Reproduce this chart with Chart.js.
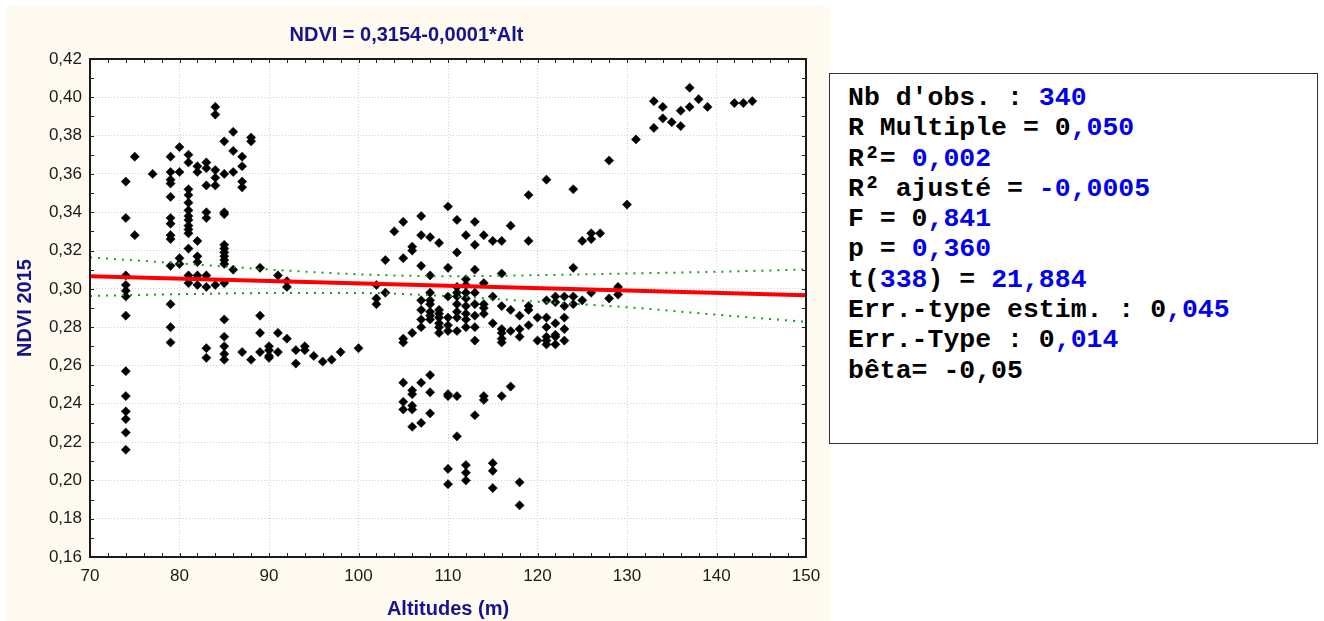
<!DOCTYPE html>
<html lang="fr">
<head>
    <meta charset="UTF-8">
    <title>NDVI 2015 / Altitudes</title>
    <style>
        body {
            margin: 0;
            width: 1324px;
            height: 621px;
            background: #fff;
            position: relative;
            overflow: hidden;
        }
        .chart-panel {
            position: absolute;
            left: 7px;
            top: 7px;
            width: 823px;
            height: 614px;
            background: #fefaf0;
        }
        .stats {
            position: absolute;
            left: 829px;
            top: 73px;
            width: 489px;
            height: 371px;
            box-sizing: border-box;
            border: 1.5px solid #333;
            background: #fff;
            padding: 9px 0 0 18px;
            font-family: "Liberation Mono", "Courier New", monospace;
            font-weight: bold;
            font-size: 26.5px;
            line-height: 30.3px;
            white-space: pre;
            color: #000;
        }
        .v { color: #0000ee; }
    </style>
    <script src="https://cdn.jsdelivr.net/npm/chart.js"></script>
</head>
<body>
    <div class="chart-panel">
        <canvas id="ndviChart"></canvas>
    </div>
    <div class="stats">Nb d'obs. : <span class="v">340</span>
R Multiple = 0<span class="v">,050</span>
R²= <span class="v">0,002</span>
R² ajusté = <span class="v">-0,0005</span>
F = 0<span class="v">,841</span>
p = <span class="v">0,360</span>
t(<span class="v">338</span>) = <span class="v">21,884</span>
Err.-type estim. : 0<span class="v">,045</span>
Err.-Type : 0<span class="v">,014</span>
bêta= -0,05</div>

    <script>
        // altitudes (m) that have observations, and the NDVI values read at each one
        const altitudes = [74, 75, 77, 79, 80, 81, 82, 83, 84, 85,
            86, 87, 88, 89, 90, 91, 92, 93, 94, 95,
            96, 97, 98, 100, 102, 103, 104, 105, 106, 107,
            108, 109, 110, 111, 112, 113, 114, 115, 116, 117,
            118, 119, 120, 121, 122, 123, 124, 125, 126, 127,
            128, 129, 130, 131, 133, 134, 135, 136, 137, 138,
            139, 142, 143, 144];

        const ndviValues = [
            [0.356, 0.337, 0.307, 0.302, 0.299, 0.296, 0.286, 0.257, 0.244, 0.236, 0.232, 0.225, 0.216],
            [0.369, 0.328],
            [0.360],
            [0.369, 0.361, 0.357, 0.355, 0.348, 0.337, 0.334, 0.328, 0.326, 0.312, 0.292, 0.280, 0.272],
            [0.374, 0.361, 0.316, 0.313],
            [0.370, 0.366, 0.352, 0.349, 0.345, 0.341, 0.338, 0.336, 0.333, 0.331, 0.329, 0.321, 0.307, 0.303],
            [0.364, 0.361, 0.325, 0.317, 0.314, 0.307, 0.302],
            [0.366, 0.363, 0.354, 0.340, 0.337, 0.307, 0.301, 0.269, 0.264],
            [0.395, 0.391, 0.362, 0.358, 0.354, 0.302],
            [0.377, 0.360, 0.340, 0.339, 0.323, 0.321, 0.319, 0.317, 0.315, 0.313, 0.303, 0.284, 0.275, 0.270, 0.266, 0.263],
            [0.382, 0.372, 0.361, 0.310],
            [0.369, 0.364, 0.356, 0.353, 0.267],
            [0.379, 0.377, 0.263],
            [0.311, 0.286, 0.277, 0.267],
            [0.270, 0.268, 0.265, 0.264],
            [0.307, 0.277, 0.267],
            [0.304, 0.301, 0.274],
            [0.268, 0.261],
            [0.270, 0.268],
            [0.265],
            [0.262],
            [0.263],
            [0.267],
            [0.269],
            [0.302, 0.295, 0.292],
            [0.315, 0.298],
            [0.330],
            [0.335, 0.316, 0.274, 0.272, 0.251, 0.241, 0.237],
            [0.322, 0.320, 0.277, 0.247, 0.245, 0.239, 0.237, 0.228],
            [0.338, 0.328, 0.312, 0.294, 0.289, 0.284, 0.280, 0.251, 0.230],
            [0.327, 0.307, 0.298, 0.294, 0.292, 0.288, 0.286, 0.284, 0.255, 0.246, 0.235],
            [0.324, 0.289, 0.287, 0.285, 0.282, 0.280, 0.277],
            [0.343, 0.311, 0.296, 0.285, 0.281, 0.278, 0.245, 0.244, 0.206, 0.198],
            [0.336, 0.319, 0.301, 0.298, 0.296, 0.292, 0.288, 0.285, 0.278, 0.244, 0.223],
            [0.328, 0.305, 0.302, 0.298, 0.295, 0.291, 0.287, 0.284, 0.280, 0.208, 0.204, 0.200],
            [0.335, 0.323, 0.310, 0.298, 0.292, 0.286, 0.280, 0.273, 0.234],
            [0.328, 0.303, 0.292, 0.290, 0.287, 0.244, 0.242],
            [0.325, 0.296, 0.282, 0.209, 0.205, 0.196],
            [0.325, 0.308, 0.291, 0.279, 0.277, 0.274, 0.272, 0.244],
            [0.333, 0.289, 0.278, 0.249],
            [0.286, 0.279, 0.275, 0.199, 0.187],
            [0.349, 0.325, 0.291, 0.289, 0.281],
            [0.285, 0.273],
            [0.357, 0.294, 0.285, 0.280, 0.275, 0.273, 0.271],
            [0.296, 0.293, 0.282, 0.276, 0.275, 0.271],
            [0.296, 0.291, 0.285, 0.279, 0.273],
            [0.352, 0.311, 0.296, 0.292],
            [0.325, 0.294],
            [0.329, 0.326, 0.298],
            [0.329],
            [0.367, 0.295],
            [0.301, 0.297],
            [0.344],
            [0.378],
            [0.398, 0.384],
            [0.395, 0.389],
            [0.387],
            [0.393, 0.385],
            [0.405, 0.395],
            [0.399],
            [0.395],
            [0.397],
            [0.397],
            [0.398]
        ];

        // fitted line NDVI = 0,3154-0,0001*Alt, ends
        const fitAlt = [70, 150];
        const fitNdvi = [0.3066, 0.2966];

        // 95% confidence band (green dots), read every 10 m
        const bandAlt = [70, 80, 90, 100, 110, 120, 130, 140, 150];
        const bandUpper = [0.3164, 0.3133, 0.3101, 0.3076, 0.3066, 0.3071, 0.3080, 0.3089, 0.3101];
        const bandLower = [0.2963, 0.2972, 0.2978, 0.2978, 0.2962, 0.2933, 0.2904, 0.2865, 0.2828];

        const yTicks = { min: 0.16, max: 0.42, step: 0.02 };
        const xTicks = { min: 70, max: 150, step: 10 };

        const points = [];
        altitudes.forEach((alt, i) => {
            ndviValues[i].forEach(v => points.push({ x: alt, y: v }));
        });

        const toXY = (xs, ys) => xs.map((x, i) => ({ x: x, y: ys[i] }));

        // white plot area, box frame and the small inward ticks
        const plotFrame = {
            id: 'plotFrame',
            beforeDraw(chart) {
                const a = chart.chartArea;
                const ctx = chart.ctx;
                ctx.save();
                ctx.fillStyle = '#fff';
                ctx.fillRect(a.left, a.top, a.right - a.left, a.bottom - a.top);
                ctx.restore();
            },
            afterDraw(chart) {
                const a = chart.chartArea;
                const ctx = chart.ctx;
                const xs = chart.scales.x;
                const ys = chart.scales.y;
                ctx.save();
                ctx.strokeStyle = '#222';
                ctx.lineWidth = 1;
                ctx.beginPath();
                for (let v = xTicks.min; v <= xTicks.max; v += 2) {
                    const px = Math.round(xs.getPixelForValue(v)) + 0.5;
                    ctx.moveTo(px, a.bottom); ctx.lineTo(px, a.bottom - 4);
                    ctx.moveTo(px, a.top); ctx.lineTo(px, a.top + 4);
                }
                for (let k = 0; k <= 26; k++) {
                    const py = Math.round(ys.getPixelForValue(yTicks.min + k * 0.01)) + 0.5;
                    ctx.moveTo(a.left, py); ctx.lineTo(a.left + 4, py);
                    ctx.moveTo(a.right, py); ctx.lineTo(a.right - 4, py);
                }
                ctx.stroke();
                ctx.lineWidth = 2;
                ctx.strokeStyle = '#1a1a1a';
                ctx.strokeRect(a.left, a.top, a.right - a.left, a.bottom - a.top);
                ctx.restore();
            }
        };

        const navy = '#14148c';
        const tickFont = { family: 'Liberation Sans, Arial, sans-serif', size: 17 };
        const titleFont = { family: 'Liberation Sans, Arial, sans-serif', size: 20, weight: 'bold' };

        new Chart(document.getElementById('ndviChart'), {
            type: 'scatter',
            data: {
                datasets: [
                    {
                        label: 'Régression',
                        data: toXY(fitAlt, fitNdvi),
                        showLine: true,
                        borderColor: '#ff0000',
                        borderWidth: 4,
                        pointRadius: 0,
                        order: 0
                    },
                    {
                        label: 'IC sup.',
                        data: toXY(bandAlt, bandUpper),
                        showLine: true,
                        borderColor: '#1f991f',
                        borderWidth: 2,
                        borderDash: [2, 6],
                        cubicInterpolationMode: 'monotone',
                        pointRadius: 0,
                        order: 1
                    },
                    {
                        label: 'IC inf.',
                        data: toXY(bandAlt, bandLower),
                        showLine: true,
                        borderColor: '#1f991f',
                        borderWidth: 2,
                        borderDash: [2, 6],
                        cubicInterpolationMode: 'monotone',
                        pointRadius: 0,
                        order: 2
                    },
                    {
                        label: 'NDVI 2015',
                        data: points,
                        pointStyle: 'rectRot',
                        pointRadius: 4.6,
                        pointBackgroundColor: '#000',
                        pointBorderColor: '#000',
                        pointBorderWidth: 0.5,
                        order: 3
                    }
                ]
            },
            options: {
                responsive: true,
                maintainAspectRatio: false,
                animation: false,
                layout: { padding: { left: 0, right: 24, top: 0, bottom: 0 } },
                plugins: {
                    legend: { display: false },
                    tooltip: { enabled: false },
                    title: {
                        display: true,
                        text: 'NDVI = 0,3154-0,0001*Alt',
                        color: navy,
                        font: titleFont,
                        padding: { top: 16, bottom: 12 }
                    }
                },
                scales: {
                    x: {
                        type: 'linear',
                        min: xTicks.min,
                        max: xTicks.max,
                        afterFit: s => { s.height = 64; },
                        ticks: {
                            stepSize: xTicks.step,
                            color: '#1a1a1a',
                            font: tickFont,
                            padding: 9,
                            maxRotation: 0
                        },
                        grid: { color: '#cfcfcf', lineWidth: 1, drawTicks: false },
                        border: { display: false, dash: [1, 2] },
                        title: {
                            display: true,
                            text: 'Altitudes (m)',
                            color: navy,
                            font: titleFont,
                            padding: { top: 0, bottom: 0 }
                        }
                    },
                    y: {
                        type: 'linear',
                        min: yTicks.min,
                        max: yTicks.max,
                        afterFit: s => { s.width = 83; },
                        ticks: {
                            stepSize: yTicks.step,
                            color: '#1a1a1a',
                            font: tickFont,
                            padding: 8,
                            callback: v => v.toFixed(2).replace('.', ',')
                        },
                        grid: { color: '#cfcfcf', lineWidth: 1, drawTicks: false },
                        border: { display: false, dash: [1, 2] },
                        title: {
                            display: true,
                            text: 'NDVI 2015',
                            color: navy,
                            font: titleFont,
                            padding: { top: 6, bottom: 0 }
                        }
                    }
                }
            },
            plugins: [plotFrame]
        });
    </script>
</body>
</html>
